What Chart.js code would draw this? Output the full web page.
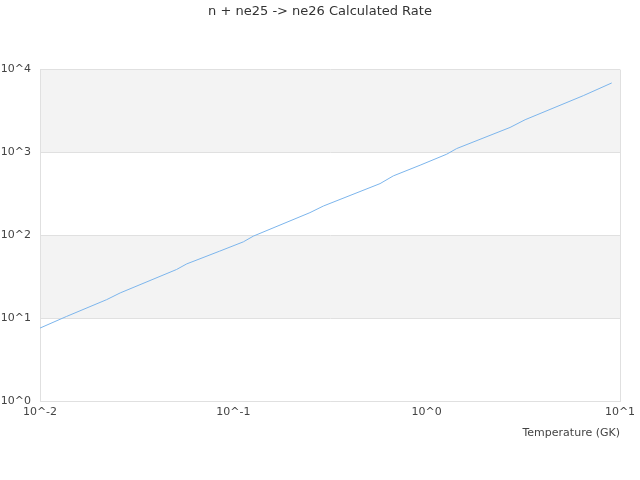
<!DOCTYPE html>
<html>
<head>
<meta charset="utf-8">
<script src="https://cdn.jsdelivr.net/npm/chart.js@4.4.1/dist/chart.umd.min.js"></script>
<style>
  html, body { margin: 0; padding: 0; background: #fff; }
  #wrap { width: 640px; height: 480px; }
</style>
</head>
<body>
<div id="wrap"><canvas id="rate"></canvas></div>
<script>
// temperatures (GK) and rates
const temperatures = [0.01, 0.0137, 0.0221, 0.026, 0.0508, 0.0574, 0.085, 0.1127, 0.127, 0.249, 0.292, 0.574, 0.672, 0.925, 1.27, 1.43, 2.7, 3.23, 6.46, 9.06];
const rates = [7.69, 10.6, 16.9, 20.4, 39.0, 45.6, 65.0, 84.1, 98.6, 189, 227, 423, 524, 705, 957, 1119, 2009, 2489, 4853, 6902];
const xTicks = [0.01, 0.1, 1, 10];
const yTicks = [1, 10, 100, 1000, 10000];
const bands = [[10, 100], [1000, 10000]];

const fontFamily = '"DejaVu Sans", sans-serif';

const bandPlugin = {
  id: 'bands',
  beforeDraw(chart) {
    const { ctx, chartArea, scales } = chart;
    ctx.save();
    ctx.fillStyle = '#f3f3f3';
    bands.forEach(([lo, hi]) => {
      const top = scales.y.getPixelForValue(hi);
      const bottom = scales.y.getPixelForValue(lo);
      ctx.fillRect(chartArea.left, top, chartArea.right - chartArea.left, bottom - top);
    });
    ctx.restore();
  }
};

const ctx = document.getElementById('rate').getContext('2d');
new Chart(ctx, {
  type: 'line',
  data: {
    datasets: [{
      label: 'rate',
      data: temperatures.map((t, i) => ({ x: t, y: rates[i] })),
      borderColor: '#7cb5ec',
      borderWidth: 1,
      pointRadius: 0,
      fill: false,
      tension: 0,
    }],
  },
  options: {
    responsive: true,
    maintainAspectRatio: false,
    animation: false,
    layout: { padding: { left: 0, right: 0, top: 0, bottom: 40 } },
    plugins: {
      legend: { display: false },
      tooltip: { enabled: false },
      title: {
        display: true,
        text: 'n + ne25 -> ne26 Calculated Rate',
        color: '#333',
        font: { family: fontFamily, size: 13, weight: 'normal' },
        padding: { top: 4, bottom: 50 },
      },
    },
    scales: {
      x: {
        type: 'logarithmic',
        min: 0.01,
        max: 10,
        afterBuildTicks: (scale) => { scale.ticks = xTicks.map((v) => ({ value: v })); },
        ticks: {
          color: '#444',
          font: { family: fontFamily, size: 11 },
          padding: 4,
          maxRotation: 0,
          callback: (v) => '10^' + Math.round(Math.log10(v)),
        },
        grid: {
          drawTicks: false,
          color: (c) => (c.index === 0 || c.index === xTicks.length - 1 ? '#e0e0e0' : 'transparent'),
        },
        border: { display: true, color: '#e0e0e0' },
        title: {
          display: true,
          text: 'Temperature (GK)',
          align: 'end',
          color: '#444',
          font: { family: fontFamily, size: 11 },
          padding: { top: 4, bottom: 0 },
        },
      },
      y: {
        type: 'logarithmic',
        min: 1,
        max: 10000,
        afterBuildTicks: (scale) => { scale.ticks = yTicks.map((v) => ({ value: v })); },
        afterFit: (scale) => { scale.width = 40; },
        ticks: {
          color: '#444',
          font: { family: fontFamily, size: 11 },
          padding: 9,
          callback: (v) => '10^' + Math.round(Math.log10(v)),
        },
        grid: { drawTicks: false, color: '#e0e0e0' },
        border: { display: true, color: '#e0e0e0' },
      },
      // empty right-hand spacer so the plot ends at x=620 while the title stays centred on the page
      spacer: {
        type: 'linear',
        position: 'right',
        display: true,
        afterFit: (scale) => { scale.width = 20; },
        ticks: { display: false },
        grid: { display: false, drawOnChartArea: false },
        border: { display: false },
      },
    },
  },
  plugins: [bandPlugin],
});
</script>
</body>
</html>
